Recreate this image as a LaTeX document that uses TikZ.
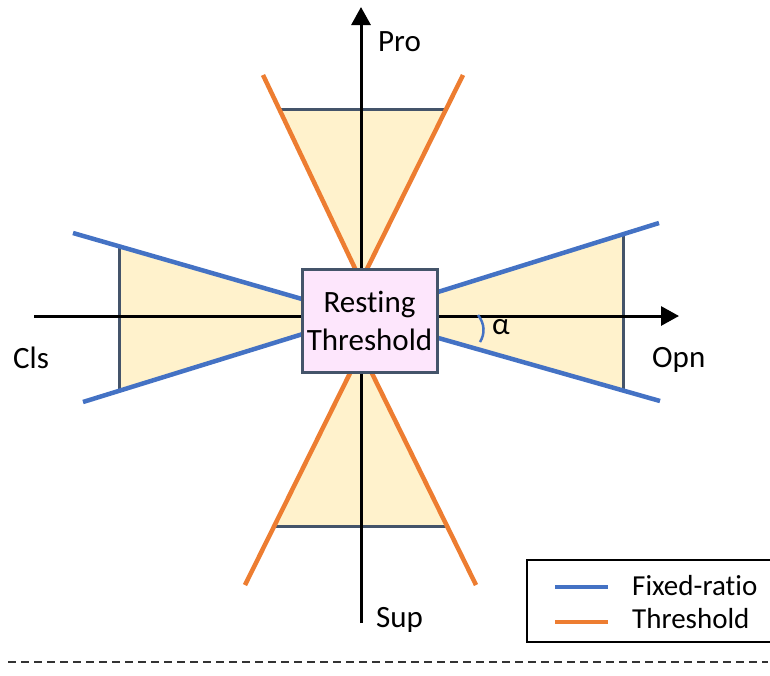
\documentclass[tikz,border=0pt]{standalone}
\usepackage{fontspec}
\setmainfont{Carlito}[Ligatures={NoCommon}]
\usetikzlibrary{arrows.meta}
\definecolor{fxblue}{HTML}{4472C4}
\definecolor{thorange}{HTML}{ED7D31}
\definecolor{wedgefill}{HTML}{FFF2CC}
\definecolor{boxfill}{HTML}{FDE6FC}
\definecolor{slate}{HTML}{44546A}
\begin{document}
\begin{tikzpicture}[x=1pt,y=-1pt,
  lbl/.style={inner sep=0pt,font=\fontsize{31}{38}\selectfont},
  leglbl/.style={inner sep=0pt,font=\fontsize{29}{35}\selectfont},
  fixline/.style={draw=fxblue,line width=4.5pt},
  thline/.style={draw=thorange,line width=4.5pt},
  capline/.style={draw=slate,line width=3pt},
  axisline/.style={draw=black,line width=3pt},
  rtbox/.style={draw=slate,fill=boxfill,line width=3pt,minimum width=135pt,minimum height=103pt,inner sep=0pt}]
\useasboundingbox (0,0) rectangle (770,675);
% key points
\coordinate (C) at (361,316);
\coordinate (T) at (361,281);
\coordinate (B) at (361,351);
\coordinate (lu) at (73,233);
\coordinate (ll) at (83,402);
\coordinate (ru) at (659,223);
\coordinate (rl) at (660,401);
\coordinate (tl) at (263,75);
\coordinate (tr) at (463,75);
\coordinate (bl) at (245,585);
\coordinate (br) at (476,585);
\coordinate (clu) at (119,246.3);
\coordinate (cll) at (119,390.9);
\coordinate (cru) at (623,234.2);
\coordinate (crl) at (623,390.5);
\coordinate (ctl) at (279.2,109);
\coordinate (ctr) at (446.2,109);
\coordinate (cbl) at (274.2,526);
\coordinate (cbr) at (447,526);
% fills
\fill[wedgefill] (clu) -- (C) -- (cll) -- cycle;
\fill[wedgefill] (cru) -- (C) -- (crl) -- cycle;
\fill[wedgefill] (ctl) -- (T) -- (ctr) -- cycle;
\fill[wedgefill] (cbl) -- (B) -- (cbr) -- cycle;
% caps
\draw[capline] (clu) -- (cll);
\draw[capline] (cru) -- (crl);
\draw[capline] (ctl) -- (ctr);
\draw[capline] (cbl) -- (cbr);
% threshold lines
\draw[thline] (T) -- (tl);
\draw[thline] (T) -- (tr);
\draw[thline] (B) -- (bl);
\draw[thline] (B) -- (br);
% fixed-ratio lines
\draw[fixline] (C) -- (lu);
\draw[fixline] (C) -- (ll);
\draw[fixline] (C) -- (ru);
\draw[fixline] (C) -- (rl);
% axes
\coordinate (ytop) at (361,7);
\coordinate (ybot) at (361,623);
\coordinate (xl) at (34,316);
\coordinate (xr) at (679,316);
\draw[axisline,-{Triangle[length=18pt,width=19pt]}] (ybot) -- (ytop);
\draw[axisline,-{Triangle[length=18pt,width=19pt]}] (xl) -- (xr);
% box
\node[rtbox] (rt) at (369.5,320.5) {};
\node[lbl,anchor=base] (rt1) at (369.5,312) {Rest\kern0pt ing};
\node[lbl,anchor=base] (rt2) at (369.5,350) {Threshold};
% alpha
\draw[draw=fxblue,line width=2.5pt] (478,315) .. controls (485,324) and (485,334) .. (480,342);
\node[lbl,anchor=base west] (alpha) at (492,334) {α};
% axis labels
\node[lbl,anchor=base west] (pro) at (378,51) {Pro};
\node[lbl,anchor=base west] (sup) at (376,627) {Sup};
\node[lbl,anchor=base west] (cls) at (13,368) {Cls};
\node[lbl,anchor=base west] (opn) at (652,367) {Opn};
% legend
\draw[draw=black,line width=1.8pt] (527,560) rectangle (773,642);
\coordinate (lb1) at (555,587);
\coordinate (lb2) at (608,587);
\coordinate (lo1) at (555,622);
\coordinate (lo2) at (608,622);
\draw[fixline] (lb1) -- (lb2);
\draw[thline] (lo1) -- (lo2);
\node[leglbl,anchor=base west] (legfix) at (632,595) {Fixed-ratio};
\node[leglbl,anchor=base west] (legth) at (632,628) {Threshold};
% dashed separator
\coordinate (d1) at (8,662);
\coordinate (d2) at (768,662);
\draw[draw=black!80,line width=2pt,dash pattern=on 8pt off 5pt] (d1) -- (d2);
\end{tikzpicture}
\end{document}
